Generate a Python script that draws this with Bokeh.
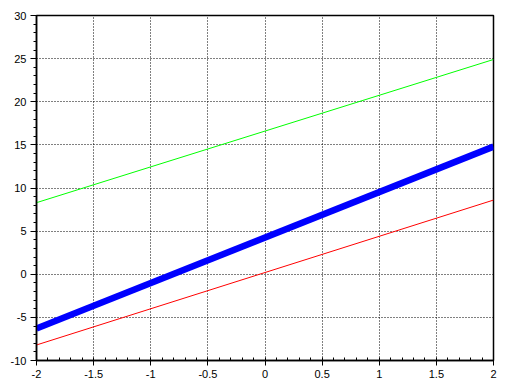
from bokeh.plotting import figure
from bokeh.embed import file_html
from bokeh.resources import INLINE
from bokeh.models import Range1d, FixedTicker

x_ends = [-2, 2]
red_y = [-8.2, 8.6]
green_y = [8.3, 24.9]
blue_y = [-6.3, 14.8]

x_ticks = [-2, -1.5, -1, -0.5, 0, 0.5, 1, 1.5, 2]
x_minor = [round(-2 + 0.1 * i, 2) for i in range(41)]
y_ticks = [-10, -5, 0, 5, 10, 15, 20, 25, 30]
y_minor = list(range(-10, 31))

p = figure(width=506, height=387, output_backend="svg", toolbar_location=None,
           x_range=Range1d(-2, 2), y_range=Range1d(-10, 30),
           min_border_left=36, min_border_right=13, min_border_top=15, min_border_bottom=27)

p.outline_line_color = "black"
p.outline_line_width = 1.5
p.background_fill_color = "white"
p.border_fill_color = "white"

p.line(x_ends, green_y, line_color="#00ff00", line_width=1)
p.line(x_ends, red_y, line_color="#ff0000", line_width=1)
p.line(x_ends, blue_y, line_color="#0000ff", line_width=6.5)

for ax in (p.xaxis[0], p.yaxis[0]):
    ax.axis_line_color = "black"
    ax.axis_line_width = 1.5
    ax.major_tick_line_color = "black"
    ax.minor_tick_line_color = "black"
    ax.major_label_text_font = "Liberation Sans"
    ax.major_label_text_font_size = "11px"
    ax.major_label_text_color = "black"

p.xaxis[0].ticker = FixedTicker(ticks=x_ticks, minor_ticks=x_minor)
p.yaxis[0].ticker = FixedTicker(ticks=y_ticks, minor_ticks=y_minor)
p.xaxis[0].major_label_overrides = {v: ("%g" % v) for v in x_ticks}
p.yaxis[0].major_label_overrides = {v: ("%g" % v) for v in y_ticks}

p.xaxis[0].major_tick_in = 0
p.xaxis[0].major_tick_out = 5
p.xaxis[0].minor_tick_in = 3
p.xaxis[0].minor_tick_out = 0
p.xaxis[0].major_label_standoff = 4

p.yaxis[0].major_tick_in = 0
p.yaxis[0].major_tick_out = 6
p.yaxis[0].minor_tick_in = 0
p.yaxis[0].minor_tick_out = 3
p.yaxis[0].major_label_standoff = 4

for g in (p.xgrid[0], p.ygrid[0]):
    g.grid_line_color = "black"
    g.grid_line_dash = "1 2"
    g.grid_line_width = 1
    g.grid_line_alpha = 1.0

p.xgrid[0].ticker = FixedTicker(ticks=x_ticks)
p.ygrid[0].ticker = FixedTicker(ticks=y_ticks)

open("out.html", "w").write(file_html(p, INLINE))
